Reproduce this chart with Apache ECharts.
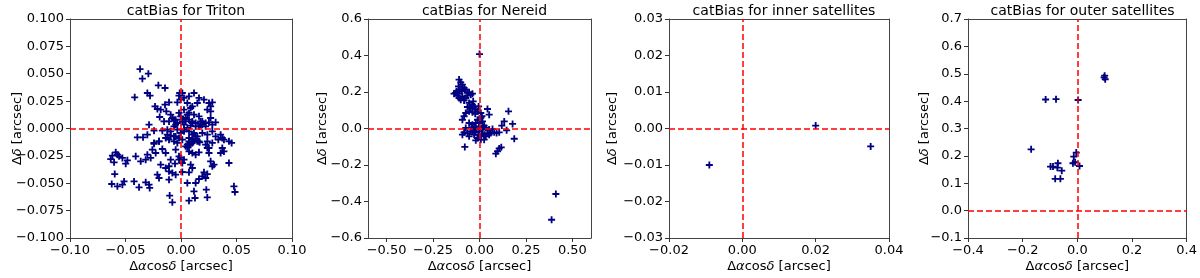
<!DOCTYPE html>
<html>
<head>
<meta charset="utf-8">
<script src="https://cdn.jsdelivr.net/npm/echarts@6/dist/echarts.min.js"></script>
<style>
html,body{margin:0;padding:0;background:#fff;}
#chart{width:1200px;height:278px;}
</style>
</head>
<body>
<div id="chart"></div>
<script>
// ---- Data (arcsec) ----
const titles = ["catBias for Triton", "catBias for Nereid", "catBias for inner satellites", "catBias for outer satellites"];

const tritonPoints = [
[-0.0369,0.0543],[-0.0348,0.0455],[-0.0294,0.0501],[-0.0204,0.0394],[-0.0144,0.0370],[-0.0303,0.0324],[-0.0279,0.0300],[-0.0417,0.0285],
[-0.0234,0.0202],[-0.0213,0.0178],[-0.0183,0.0172],[-0.0144,0.0218],[-0.0108,0.0239],[-0.0132,0.0157],[-0.0093,0.0126],[-0.0033,0.0239],
[-0.0018,0.0300],[-0.0192,0.0105],[-0.0153,0.0065],[-0.0108,0.0065],[-0.0063,0.0081],[-0.0048,0.0035],[-0.0288,0.0035],[-0.0243,-0.0020],
[-0.0168,-0.0020],[-0.0123,-0.0011],[-0.0093,-0.0065],[-0.0048,-0.0072],[-0.0393,-0.0081],[-0.0342,-0.0081],[-0.0303,-0.0056],[-0.0198,-0.0117],
[-0.0243,-0.0132],[-0.0108,-0.0102],[-0.0063,-0.0117],[-0.0033,-0.0132],
[0.0117,0.0324],[0.0072,0.0294],[0.0162,0.0279],[0.0207,0.0263],[0.0252,0.0233],[0.0282,0.0239],[0.0267,0.0202],[0.0237,0.0172],
[0.0267,0.0157],[0.0147,0.0233],[0.0102,0.0202],[0.0057,0.0233],[0.0087,0.0187],[0.0012,0.0324],[-0.0003,0.0263],[0.0027,0.0172],
[0.0072,0.0142],[0.0117,0.0126],[0.0162,0.0111],[0.0192,0.0065],[0.0222,0.0050],[0.0252,0.0056],[0.0282,0.0035],[0.0312,0.0056],
[0.0267,0.0096],[0.0177,0.0035],[0.0132,0.0020],[0.0102,0.0050],[0.0042,0.0065],[0.0012,0.0081],[0.0027,-0.0011],[0.0072,-0.0026],
[0.0117,-0.0041],[0.0147,-0.0072],[0.0192,-0.0041],[0.0237,-0.0056],[0.0282,-0.0026],[0.0312,-0.0072],[0.0357,-0.0056],[0.0387,-0.0102],
[0.0432,-0.0117],[0.0456,-0.0132],[0.0372,-0.0087],[0.0336,-0.0102],[0.0102,-0.0102],[0.0162,-0.0117],[0.0222,-0.0148],[0.0072,-0.0148],
[0.0252,-0.0178],[0.0057,-0.0172],
[-0.0243,-0.0139],[-0.0198,-0.0117],[-0.0168,-0.0187],[-0.0138,-0.0224],[-0.0258,-0.0193],[-0.0228,-0.0224],[-0.0303,-0.0239],[-0.0273,-0.0269],
[-0.0318,-0.0285],[-0.0408,-0.0254],[-0.0363,-0.0300],[-0.0483,-0.0291],[-0.0498,-0.0321],[-0.0528,-0.0269],[-0.0558,-0.0254],[-0.0588,-0.0218],
[-0.0618,-0.0248],[-0.0633,-0.0279],[-0.0603,-0.0309],[-0.0573,-0.0239],[-0.0183,-0.0330],[-0.0138,-0.0361],[-0.0108,-0.0391],[-0.0078,-0.0406],
[-0.0048,-0.0422],[-0.0093,-0.0285],[-0.0054,-0.0321],[-0.0108,-0.0345],[-0.0018,-0.0254],[-0.0048,-0.0193],[-0.0213,-0.0422],[-0.0198,-0.0452],
[-0.0108,-0.0467],[-0.0597,-0.0416],[-0.0624,-0.0507],[-0.0573,-0.0528],[-0.0528,-0.0513],[-0.0513,-0.0483],[-0.0423,-0.0483],[-0.0378,-0.0537],
[-0.0318,-0.0492],[-0.0288,-0.0513],[-0.0282,-0.0543],[-0.0102,-0.0613],[-0.0078,-0.0674],
[0.0072,-0.0117],[0.0102,-0.0132],[0.0057,-0.0148],[0.0117,-0.0111],[0.0168,-0.0126],[0.0237,-0.0117],[0.0282,-0.0132],[0.0237,-0.0178],
[0.0252,-0.0224],[0.0372,-0.0178],[0.0387,-0.0209],[0.0357,-0.0224],[0.0072,-0.0209],[0.0102,-0.0224],[0.0132,-0.0239],[0.0162,-0.0218],
[0.0027,-0.0285],[0.0012,-0.0315],[0.0087,-0.0330],[0.0102,-0.0361],[0.0072,-0.0400],[0.0012,-0.0397],[0.0267,-0.0300],[0.0297,-0.0330],
[0.0282,-0.0345],[0.0432,-0.0315],[0.0207,-0.0400],[0.0237,-0.0416],[0.0192,-0.0437],[0.0222,-0.0452],[0.0162,-0.0461],[0.0132,-0.0498],
[0.0057,-0.0498],[0.0117,-0.0574],[0.0228,-0.0559],[0.0477,-0.0528],[0.0486,-0.0580],[0.0126,-0.0635],[0.0072,-0.0659],[0.0237,-0.0629],
[-0.0018,-0.0285],[-0.0003,-0.0269],
[-0.0078,0.0096],[-0.0048,0.0081],[-0.0033,0.0050],[-0.0018,0.0142],[-0.0003,0.0111],[0.0012,0.0065],[0.0027,0.0035],[0.0042,0.0096],
[0.0057,0.0126],[0.0072,0.0081],[-0.0063,0.0020],[-0.0033,-0.0011],[-0.0003,-0.0041],[0.0027,-0.0026],[0.0057,0.0005],[0.0087,0.0026],
[0.0102,0.0065],[0.0132,0.0050],[0.0162,0.0020],[0.0177,0.0065],[0.0192,0.0035],[0.0222,0.0020],[-0.0093,-0.0026],[-0.0123,-0.0056],
[-0.0138,-0.0087],[-0.0063,-0.0072],[-0.0018,-0.0087],[0.0012,-0.0102],[0.0072,-0.0087],[0.0102,-0.0056],[0.0132,-0.0072],[0.0147,-0.0117],
[0.0087,-0.0148],[0.0042,-0.0163],[-0.0012,0.0324],[0.0027,0.0279]
];

const nereidPoints = [
[-0.110,0.268],[-0.101,0.253],[-0.092,0.240],[-0.113,0.231],[-0.083,0.222],[-0.074,0.213],[-0.065,0.195],[-0.056,0.198],
[-0.047,0.185],[-0.128,0.195],[-0.137,0.191],[-0.119,0.180],[-0.110,0.167],[-0.092,0.176],[-0.074,0.167],[-0.101,0.158],
[-0.083,0.154],[-0.065,0.180],[-0.038,0.191],[-0.095,0.204],[-0.106,0.213],[-0.124,0.204],[-0.113,0.191],
[-0.056,0.140],[-0.038,0.131],[-0.065,0.118],[-0.047,0.112],[-0.029,0.121],[-0.020,0.103],[-0.056,0.094],[-0.038,0.089],
[-0.074,0.085],[-0.083,0.067],[-0.092,0.048],[-0.011,0.094],[-0.034,0.149],[-0.005,0.121],[-0.023,0.081],
[0.043,0.107],[0.052,0.076],[0.156,0.094],[0.133,0.039],[0.120,0.016],[0.178,0.025],[0.146,-0.010],[0.187,-0.056],
[0.106,-0.109],[0.097,-0.125],[-0.079,-0.101],[0.088,-0.138],[0.117,-0.103],
[-0.056,0.030],[-0.038,0.021],[-0.020,0.030],[-0.011,0.048],[0.007,0.058],[0.016,0.039],[-0.002,0.012],[0.025,0.016],
[0.034,0.003],[0.052,-0.006],[0.043,-0.025],[0.025,-0.034],[0.007,-0.043],[-0.011,-0.052],[-0.029,-0.034],[-0.047,-0.016],
[-0.065,-0.025],[-0.083,-0.021],[-0.074,0.003],[-0.029,0.003],[-0.002,-0.016],[0.016,-0.006],[0.034,-0.043],[0.061,-0.025],
[0.079,-0.021],[0.092,-0.025],[0.106,-0.021],[-0.020,-0.065],[0.007,-0.061],[0.025,-0.061],[-0.038,-0.016],[-0.056,-0.043],
[-0.002,0.030],[0.007,0.085],[0.013,0.067],[-0.092,-0.034],[-0.016,-0.003],[0.013,-0.028],[-0.005,-0.034],[-0.023,-0.021],
[0.020,0.008],[-0.041,0.008],[0.052,-0.034],[0.070,-0.003],
[0.000,0.408],[0.388,-0.500],[0.411,-0.359]
];

const innerPoints = [[-0.009,-0.010],[0.020,0.0008],[0.035,-0.0049]];

const outerPoints = [
[0.100,0.493],[0.102,0.480],[0.098,0.487],[-0.116,0.406],[-0.078,0.407],[0.003,0.404],[-0.169,0.224],[-0.004,0.212],
[-0.013,0.197],[-0.016,0.173],[-0.008,0.177],[0.008,0.163],[-0.098,0.161],[-0.089,0.161],[-0.071,0.173],[-0.073,0.157],
[-0.057,0.146],[-0.081,0.116],[-0.062,0.116]
];

// axis ranges: [min, max, interval, decimals]
const xAxes = [[-0.1,0.1,0.05,2],[-0.6,0.6,null,2],[-0.02,0.04,0.02,2],[-0.4,0.4,0.2,1]];
const yAxes = [[-0.1,0.1,0.025,3],[-0.6,0.6,0.2,1],[-0.03,0.03,0.01,2],[-0.1,0.7,0.1,1]];
const nereidXTicks = [-0.5,-0.25,0,0.25,0.5];

// ---- Layout ----
const gridBoxes = [
  {left:70, top:19, width:222, height:219},
  {left:368, top:19, width:223, height:219},
  {left:669, top:19, width:220, height:219},
  {left:968, top:19, width:219, height:219}
];
const yNameGaps = [46, 39, 50, 37];
const allPoints = [tritonPoints, nereidPoints, innerPoints, outerPoints];

const FONT = 'DejaVu Sans';
const FRAME = '#444';
const plusPath = 'path://M3.7,0H6.3V3.7H10V6.3H6.3V10H3.7V6.3H0V3.7H3.7Z';

function fmt(dec){
  return function(v){
    if (Math.abs(v) < 1e-9) v = 0;
    return v.toFixed(dec).replace('-', '\u2212');
  };
}
const richStyles = {
  n:{fontFamily:FONT, fontSize:13, color:'#000'},
  i:{fontFamily:FONT, fontSize:13, color:'#000', fontStyle:'italic'}
};

const xAxisList = [];
const yAxisList = [];
xAxes.forEach((a,i)=>{
  const ax = {
    type:'value', gridIndex:i, min:a[0], max:a[1], position:'bottom',
    name:'{n|\u0394}{i|\u03b1}{n|cos}{i|\u03b4}{n| [arcsec]}',
    nameLocation:'middle', nameGap:22, nameMoveOverlap:false,
    nameTextStyle:{fontFamily:FONT, fontSize:13, color:'#000', rich:richStyles},
    axisLine:{show:true, onZero:false, lineStyle:{color:FRAME, width:1}},
    axisTick:{show:true, inside:false, length:4, lineStyle:{color:'#333', width:1}},
    axisLabel:{fontFamily:FONT, fontSize:13, color:'#000', margin:6, formatter:fmt(a[3]), showMinLabel:true, showMaxLabel:true, hideOverlap:false},
    splitLine:{show:false}
  };
  if (a[2] !== null) ax.interval = a[2];
  else {
    ax.axisTick.customValues = nereidXTicks;
    ax.axisLabel.customValues = nereidXTicks;
  }
  xAxisList.push(ax);
});
yAxes.forEach((a,i)=>{
  yAxisList.push({
    type:'value', gridIndex:i, min:a[0], max:a[1], interval:a[2], position:'left',
    name:'{n|\u0394}{i|\u03b4}{n| [arcsec]}',
    nameLocation:'middle', nameGap:yNameGaps[i], nameRotate:90, nameMoveOverlap:false,
    nameTextStyle:{fontFamily:FONT, fontSize:13, color:'#000', rich:richStyles},
    axisLine:{show:true, onZero:false, lineStyle:{color:FRAME, width:1}},
    axisTick:{show:true, inside:false, length:4, lineStyle:{color:'#333', width:1}},
    axisLabel:{fontFamily:FONT, fontSize:13, color:'#000', margin:6, formatter:fmt(a[3]), showMinLabel:true, showMaxLabel:true},
    splitLine:{show:false}
  });
});
// frame: top and right spines
xAxes.forEach((a,i)=>{
  xAxisList.push({type:'value', gridIndex:i, min:a[0], max:a[1], position:'top',
    axisLine:{show:true, onZero:false, lineStyle:{color:FRAME, width:1}},
    axisTick:{show:false}, axisLabel:{show:false}, splitLine:{show:false}});
});
yAxes.forEach((a,i)=>{
  yAxisList.push({type:'value', gridIndex:i, min:a[0], max:a[1], position:'right',
    axisLine:{show:true, onZero:false, lineStyle:{color:FRAME, width:1}},
    axisTick:{show:false}, axisLabel:{show:false}, splitLine:{show:false}});
});

const option = {
  animation:false,
  backgroundColor:'#fff',
  title: titles.map((t,i)=>({
    text:t,
    left: gridBoxes[i].left + gridBoxes[i].width/2,
    textAlign:'center',
    top:-1,
    textStyle:{fontFamily:FONT, fontSize:14, fontWeight:'normal', color:'#000'}
  })),
  grid: gridBoxes.map(g=>Object.assign({containLabel:false}, g)),
  xAxis: xAxisList,
  yAxis: yAxisList,
  series: []
};

allPoints.forEach((pts,i)=>{
  option.series.push({
    type:'scatter', xAxisIndex:i, yAxisIndex:i, data:pts,
    symbol:plusPath, symbolSize:7, z:2,
    itemStyle:{color:'#000080', opacity:1},
    emphasis:{disabled:true}, silent:true
  });
  option.series.push({
    type:'scatter', xAxisIndex:i, yAxisIndex:i, data:[], z:5, silent:true,
    markLine:{
      silent:true, symbol:['none','none'], animation:false,
      label:{show:false},
      lineStyle:{color:'#ff0000', type:[6,3], width:1.5},
      emphasis:{disabled:true},
      data:[{xAxis:0},{yAxis:0}]
    }
  });
});

const chart = echarts.init(document.getElementById('chart'), null, {renderer:'canvas'});
chart.setOption(option);
</script>
</body>
</html>
